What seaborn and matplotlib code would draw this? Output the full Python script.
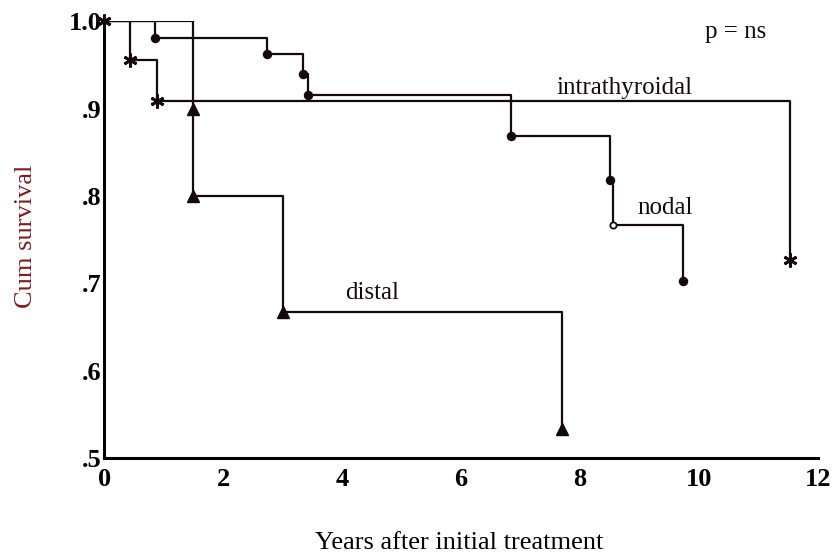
import matplotlib
matplotlib.use("Agg")
import matplotlib.pyplot as plt
import seaborn as sns
import pandas as pd

sns.set_theme(style="white")
plt.rcParams["font.family"] = ["Liberation Serif", "DejaVu Serif"]

# Kaplan-Meier step curves: (years, cumulative survival) at each step
intra_t = [0.0, 0.44, 0.89, 11.53]
intra_s = [1.0, 0.955, 0.909, 0.727]

nodal_t = [0.0, 0.86, 2.73, 3.35, 3.42, 6.84, 8.50, 8.55, 9.73]
nodal_s = [1.0, 0.981, 0.962, 0.940, 0.915, 0.869, 0.818, 0.767, 0.703]

distal_t = [0.0, 1.50, 1.50, 3.00, 7.70]
distal_s = [1.0, 0.900, 0.800, 0.667, 0.533]

x_ticks = [0, 2, 4, 6, 8, 10, 12]
y_ticks = [0.5, 0.6, 0.7, 0.8, 0.9, 1.0]
y_tick_labels = [".5", ".6", ".7", ".8", ".9", "1.0"]

frames = []
for name, t, s in [("intrathyroidal", intra_t, intra_s),
                   ("nodal", nodal_t, nodal_s),
                   ("distal", distal_t, distal_s)]:
    frames.append(pd.DataFrame({"years": t, "surv": s, "group": name}))
df = pd.concat(frames, ignore_index=True)

fig = plt.figure(figsize=(8.33, 5.56), dpi=100)
ax = fig.add_axes([0.125, 0.176, 0.857, 0.786])

ink = "#140a0c"

for name, sub in df.groupby("group", sort=False):
    sns.lineplot(data=sub, x="years", y="surv", ax=ax, estimator=None,
                 sort=False, drawstyle="steps-post", color=ink,
                 linewidth=1.6, legend=False)

# markers at each step
it = df[df.group == "intrathyroidal"]
ax.plot(it["years"], it["surv"], linestyle="none", marker=(6, 2, 0),
        markersize=10, markeredgewidth=2.0, color=ink, clip_on=False, zorder=5)

nd = df[df.group == "nodal"].iloc[1:]
for i, (x, y) in enumerate(zip(nd["years"], nd["surv"])):
    open_pt = (i == 6)
    ax.plot([x], [y], linestyle="none", marker="o",
            markersize=4.5 if open_pt else 5.5,
            markerfacecolor="white" if open_pt else ink,
            markeredgecolor=ink, markeredgewidth=1.3, clip_on=False, zorder=5)

ds = df[df.group == "distal"].iloc[1:]
ax.plot(ds["years"], ds["surv"], linestyle="none", marker="^",
        markersize=8, color=ink, clip_on=False, zorder=5)

ax.set_xlim(0, 12)
ax.set_ylim(0.5, 1.0)
ax.set_xticks(x_ticks)
ax.set_xticklabels([str(v) for v in x_ticks])
ax.set_yticks(y_ticks)
ax.set_yticklabels(y_tick_labels)
ax.tick_params(axis="both", direction="in", length=4, width=2.0, color="black",
               labelsize=19, labelcolor="black")
ax.tick_params(axis="x", pad=7)
ax.tick_params(axis="y", pad=2)
for lab in ax.get_xticklabels() + ax.get_yticklabels():
    lab.set_fontweight("bold")

for side in ["top", "right"]:
    ax.spines[side].set_visible(False)
for side in ["left", "bottom"]:
    ax.spines[side].set_color("black")
    ax.spines[side].set_linewidth(2.2)

ax.set_xlabel("Years after initial treatment", fontsize=19, color="black")
ax.xaxis.set_label_coords(0.497, -0.195)
ax.xaxis.label.set_va("center")
ax.set_ylabel("Cum survival", fontsize=19, color="#7a1f1f")
ax.yaxis.set_label_coords(-0.109, 0.508)
ax.yaxis.label.set_va("center")

ax.text(7.61, 0.923, "intrathyroidal", fontsize=18, va="center", ha="left",
        color=ink)
ax.text(8.97, 0.786, "nodal", fontsize=18, va="center", ha="left", color=ink)
ax.text(4.05, 0.689, "distal", fontsize=18, va="center", ha="left", color=ink)
ax.text(10.1, 0.987, "p = ns", fontsize=18, va="center", ha="left", color=ink)

fig.savefig("out.png", dpi=100)
